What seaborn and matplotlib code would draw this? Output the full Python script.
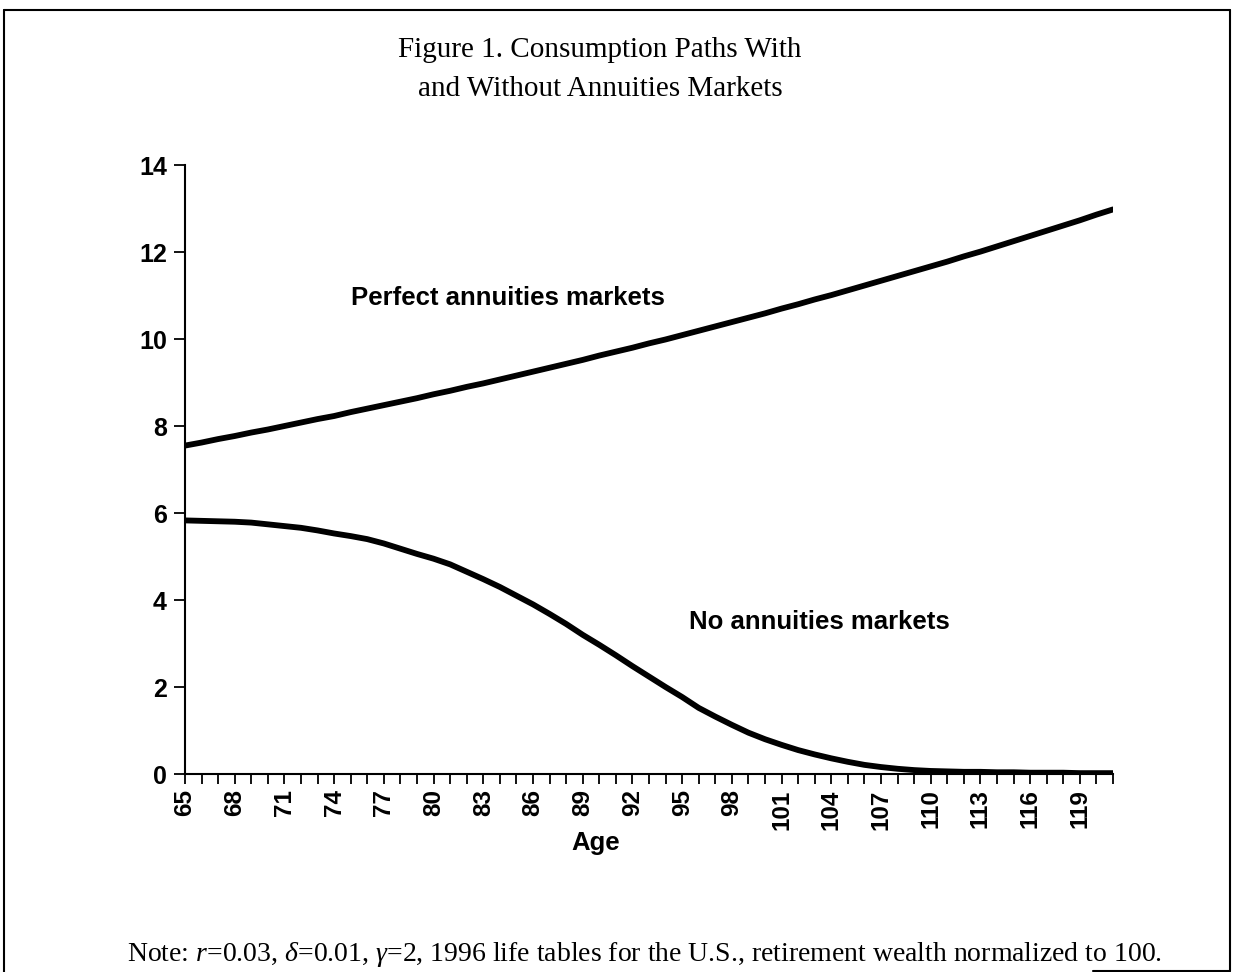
import matplotlib
matplotlib.use("Agg")
import matplotlib.pyplot as plt
import matplotlib.ticker as mticker
from matplotlib.lines import Line2D
import seaborn as sns
import pandas as pd

ages = list(range(65, 122))
perfect = [7.55, 7.62, 7.70, 7.77, 7.85, 7.92, 8.00, 8.08, 8.16, 8.23,
           8.32, 8.40, 8.48, 8.56, 8.64, 8.73, 8.81, 8.90, 8.98, 9.07,
           9.16, 9.25, 9.34, 9.43, 9.52, 9.62, 9.71, 9.80, 9.90, 9.99,
           10.09, 10.19, 10.29, 10.39, 10.49, 10.59, 10.70, 10.80, 10.91, 11.01,
           11.12, 11.23, 11.34, 11.45, 11.56, 11.67, 11.78, 11.90, 12.01, 12.13,
           12.25, 12.37, 12.49, 12.61, 12.73, 12.86, 12.98]
no_annuity = [5.83, 5.82, 5.81, 5.80, 5.78, 5.74, 5.70, 5.66, 5.60, 5.53,
              5.47, 5.40, 5.30, 5.18, 5.06, 4.95, 4.82, 4.65, 4.48, 4.30,
              4.10, 3.90, 3.68, 3.45, 3.20, 2.97, 2.73, 2.48, 2.24, 2.00,
              1.77, 1.52, 1.32, 1.13, 0.95, 0.80, 0.67, 0.55, 0.45, 0.36,
              0.28, 0.21, 0.16, 0.12, 0.09, 0.07, 0.06, 0.05, 0.05, 0.04,
              0.04, 0.03, 0.03, 0.03, 0.02, 0.02, 0.02]
series_names = ["Perfect annuities markets", "No annuities markets"]
y_ticks = [0, 2, 4, 6, 8, 10, 12, 14]
x_label_ticks = list(range(65, 120, 3))

title_text = "Figure 1. Consumption Paths With\nand Without Annuities Markets"
x_label = "Age"

df = pd.DataFrame({
    "Age": ages * 2,
    "Consumption": perfect + no_annuity,
    "Series": [series_names[0]] * len(ages) + [series_names[1]] * len(ages),
})

sns.set_theme(style="white")
plt.rcParams["font.family"] = ["Liberation Sans", "DejaVu Sans"]
plt.rcParams["text.color"] = "black"
plt.rcParams["xtick.color"] = "black"
plt.rcParams["ytick.color"] = "black"
plt.rcParams["axes.labelcolor"] = "black"
plt.rcParams["mathtext.fontset"] = "custom"
plt.rcParams["mathtext.rm"] = "Liberation Serif"
plt.rcParams["mathtext.it"] = "Liberation Serif:italic"

fig = plt.figure(figsize=(12.33, 9.72), dpi=100)
ax = fig.add_axes([0.150, 0.2037, 0.7527, 0.6265])

sns.lineplot(data=df, x="Age", y="Consumption", hue="Series",
             palette=["black", "black"], linewidth=4.2, legend=False, ax=ax,
             solid_capstyle="round")

ax.set_xlim(ages[0], ages[-1])
ax.set_ylim(0, 14)
ax.set_yticks(y_ticks)
ax.set_yticklabels([str(v) for v in y_ticks], fontsize=18, fontweight="bold")
ax.set_xticks(x_label_ticks)
ax.set_xticklabels([str(v) for v in x_label_ticks], rotation=90,
                   fontsize=17.5, fontweight="bold")
ax.xaxis.set_minor_locator(mticker.FixedLocator(ages))
ax.tick_params(axis="x", which="both", direction="out", length=7, width=1.3,
               color="black", bottom=True, pad=4)
ax.tick_params(axis="y", which="major", direction="out", length=8, width=1.3,
               color="black", left=True, pad=5)
for side in ["top", "right"]:
    ax.spines[side].set_visible(False)
for side in ["left", "bottom"]:
    ax.spines[side].set_color("black")
    ax.spines[side].set_linewidth(1.5)
ax.set_xlabel("")
ax.set_ylabel("")
ax.set_facecolor("white")

fig.text(0.483, 0.133, x_label, ha="center", va="center",
         fontsize=18.5, fontweight="bold")

ax.text(84.5, 10.94, series_names[0], ha="center", va="center",
        fontsize=18.5, fontweight="bold")
ax.text(103.3, 3.49, series_names[1], ha="center", va="center",
        fontsize=18.5, fontweight="bold")

fig.text(0.4866, 0.929, title_text, ha="center", va="center",
         fontsize=21, family="Liberation Serif", linespacing=1.65)

note = (r"Note: $r$=0.03, $\delta$=0.01, $\gamma$=2, 1996 life tables for "
        r"the U.S., retirement wealth normalized to 100.")
fig.text(0.523, 0.0185, note, ha="center", va="center",
         fontsize=20, family="Liberation Serif")

# page frame
frame_kw = dict(color="black", linewidth=1.5, transform=fig.transFigure)
W, H = 1233.0, 972.0
fig.add_artist(Line2D([4 / W, 4 / W], [0, 1 - 10 / H], **frame_kw))
fig.add_artist(Line2D([4 / W, 1230 / W], [1 - 10 / H, 1 - 10 / H], **frame_kw))
fig.add_artist(Line2D([1230 / W, 1230 / W], [1 - 10 / H, 1 - 970.5 / H], **frame_kw))
fig.add_artist(Line2D([1093 / W, 1230 / W], [1 - 970.5 / H, 1 - 970.5 / H], **frame_kw))

fig.savefig("out.png", dpi=100, facecolor="white")
